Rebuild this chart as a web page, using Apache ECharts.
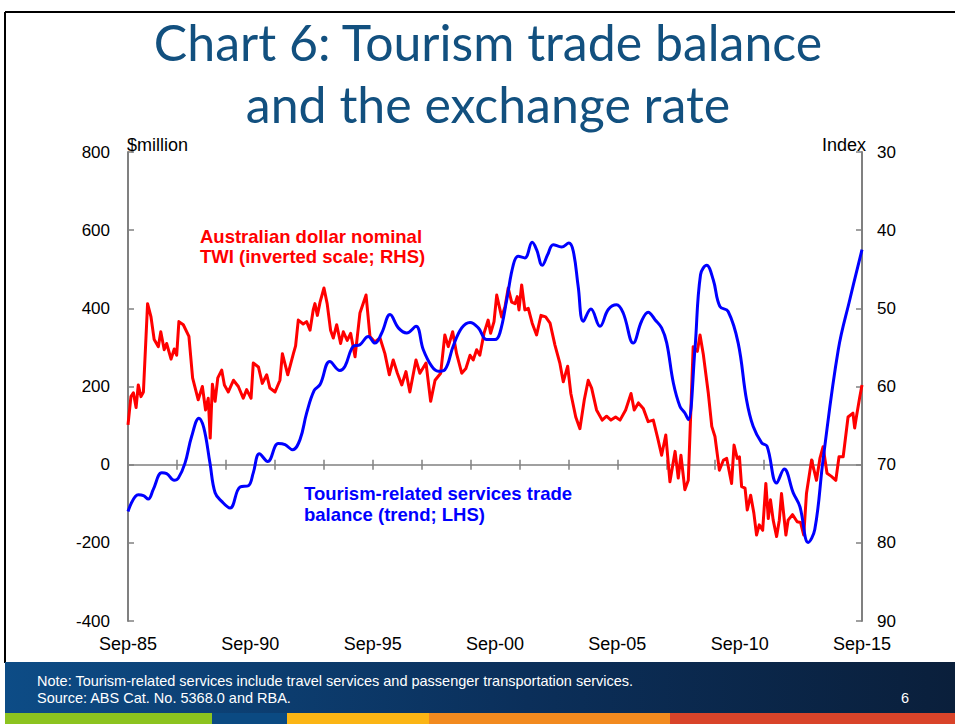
<!DOCTYPE html>
<html>
<head>
<meta charset="utf-8">
<script src="https://cdn.jsdelivr.net/npm/echarts@6/dist/echarts.min.js"></script>
<style>
  html, body { margin: 0; padding: 0; background: #fff; }
  #chart { width: 955px; height: 724px; }
</style>
</head>
<body>
<div id="chart"></div>
<script>
// years since Sep-85
var xTickLabels = ['Sep-85', 'Sep-90', 'Sep-95', 'Sep-00', 'Sep-05', 'Sep-10', 'Sep-15'];

// Tourism-related services trade balance, trend ($million, LHS)
var tradeYears = [
  0, 0.42, 0.63, 0.83, 1.03, 1.38, 1.58, 1.89, 2.06, 2.33,
  2.6, 2.9, 3.1, 3.35, 3.56, 3.83, 4.17, 4.58, 4.92, 5.12,
  5.37, 5.71, 6.14, 6.42, 6.73, 7.03, 7.3, 7.61, 7.85, 8.25,
  8.66, 8.87, 9.21, 9.48, 9.82, 10.09, 10.37, 10.71, 11.05, 11.39,
  11.77, 12.07, 12.41, 12.68, 12.95, 13.29, 13.64, 13.98, 14.32, 14.66,
  15.0, 15.2, 15.48, 15.75, 15.95, 16.22, 16.52, 16.7, 16.93, 17.15,
  17.38, 17.72, 18.02, 18.2, 18.4, 18.61, 18.92, 19.29, 19.63, 19.97,
  20.24, 20.65, 20.99, 21.26, 21.54, 21.81, 22.02, 22.29, 22.56, 22.76,
  22.9, 23.17, 23.4, 23.65, 23.92, 24.19, 24.53, 24.94, 25.28, 25.55,
  25.9, 26.12, 26.51, 26.82, 27.19, 27.46, 27.8, 28.07, 28.41, 29.03,
  29.5, 30
];
var tradeValues = [
  -120, -77, -79, -88, -64, -21, -23, -40, -34, 4,
  72, 119, 94, 4, -72, -94, -111, -57, -54, -21,
  28, 8, 54, 51, 38, 64, 132, 190, 205, 264,
  241, 252, 303, 307, 328, 311, 337, 384, 350, 337,
  354, 294, 252, 239, 243, 303, 350, 364, 350, 320,
  320, 337, 422, 512, 533, 529, 569, 550, 510, 537,
  563, 557, 567, 546, 456, 367, 398, 354, 397, 409,
  388, 311, 367, 390, 371, 350, 311, 209, 149, 132,
  115, 294, 486, 510, 473, 405, 392, 311, 166, 98,
  56, 47, -47, -11, -72, -107, -199, -166, 13, 294,
  422, 550
];

// Australian dollar nominal TWI (index, RHS, inverted)
var twiYears = [
  0, 0.12, 0.22, 0.33, 0.42, 0.53, 0.63, 0.8, 0.94, 1.07,
  1.24, 1.34, 1.48, 1.58, 1.76, 1.89, 1.99, 2.08, 2.26, 2.49,
  2.64, 2.87, 3.04, 3.17, 3.28, 3.36, 3.45, 3.56, 3.67, 3.83,
  3.94, 4.1, 4.31, 4.51, 4.71, 4.85, 5.03, 5.12, 5.33, 5.49,
  5.67, 5.8, 6.01, 6.21, 6.31, 6.53, 6.76, 6.85, 6.96, 7.16,
  7.3, 7.44, 7.57, 7.64, 7.74, 7.85, 8.01, 8.14, 8.28, 8.39,
  8.53, 8.69, 8.8, 8.96, 9.1, 9.28, 9.48, 9.73, 9.89, 10.09,
  10.3, 10.5, 10.68, 10.84, 11.01, 11.19, 11.36, 11.52, 11.77, 11.93,
  12.18, 12.37, 12.55, 12.78, 12.95, 13.09, 13.27, 13.43, 13.64, 13.81,
  13.98, 14.11, 14.25, 14.38, 14.55, 14.72, 14.82, 14.96, 15.07, 15.27,
  15.41, 15.54, 15.68, 15.82, 15.91, 15.98, 16.09, 16.22, 16.36, 16.52,
  16.7, 16.88, 17.07, 17.25, 17.45, 17.65, 17.79, 17.97, 18.1, 18.3,
  18.47, 18.65, 18.81, 18.95, 19.15, 19.38, 19.56, 19.74, 19.93, 20.11,
  20.34, 20.56, 20.69, 20.86, 21.06, 21.26, 21.47, 21.65, 21.81, 21.98,
  22.15, 22.36, 22.49, 22.6, 22.76, 22.9, 23.1, 23.27, 23.38, 23.51,
  23.72, 23.86, 23.99, 24.17, 24.34, 24.47, 24.67, 24.77, 24.9, 24.99,
  25.08, 25.22, 25.31, 25.45, 25.58, 25.69, 25.8, 25.94, 26.07, 26.17,
  26.26, 26.37, 26.51, 26.62, 26.71, 26.89, 26.98, 27.16, 27.35, 27.49,
  27.62, 27.73, 27.94, 28.14, 28.28, 28.41, 28.57, 28.75, 28.93, 29.06,
  29.23, 29.43, 29.63, 29.7, 29.77, 29.9, 30
];
var twiValues = [
  64.9, 61.3, 60.8, 62.7, 59.8, 61.3, 60.7, 49.4, 51.1, 54.0,
  54.9, 53.0, 55.3, 54.5, 56.5, 55.2, 56.0, 51.7, 52.1, 53.6,
  58.9, 61.7, 60.0, 63.0, 61.5, 66.6, 59.7, 61.9, 58.9, 57.9,
  59.8, 60.7, 59.2, 60.0, 61.5, 60.4, 61.5, 57.0, 57.5, 59.6,
  58.5, 60.2, 60.7, 59.2, 55.8, 58.5, 55.8, 54.8, 51.5, 52.0,
  51.7, 52.8, 50.2, 49.4, 50.9, 49.2, 47.4, 49.4, 52.8, 53.8,
  52.1, 54.5, 53.0, 54.1, 53.2, 56.2, 50.6, 48.3, 53.6, 54.3,
  53.8, 55.8, 58.5, 56.6, 58.3, 59.8, 58.1, 60.7, 56.6, 58.3,
  57.0, 61.9, 59.2, 58.3, 53.4, 54.9, 53.0, 55.8, 58.3, 57.7,
  56.0, 56.6, 55.3, 56.0, 53.2, 51.5, 53.2, 51.7, 48.3, 51.1,
  49.8, 47.4, 49.2, 49.4, 48.5, 50.2, 47.0, 50.2, 50.0, 51.9,
  53.4, 50.9, 51.1, 51.9, 54.7, 57.0, 59.4, 57.4, 60.9, 63.9,
  65.4, 61.7, 59.2, 60.2, 63.0, 64.3, 63.8, 64.3, 63.9, 64.3,
  63.0, 60.9, 63.0, 62.1, 62.8, 64.5, 64.3, 66.6, 68.8, 66.2,
  72.2, 68.3, 71.7, 68.8, 73.2, 72.0, 54.9, 55.5, 53.4, 55.8,
  60.9, 65.1, 66.4, 70.7, 69.4, 69.2, 72.4, 67.5, 69.2, 69.0,
  72.8, 73.0, 75.8, 73.9, 76.2, 79.0, 77.7, 78.4, 72.4, 76.9,
  74.5, 77.1, 79.2, 77.1, 73.7, 79.0, 77.1, 76.4, 77.3, 77.4,
  79.0, 73.7, 69.4, 72.0, 69.2, 67.7, 71.1, 71.5, 72.0, 69.0,
  69.0, 63.9, 63.4, 65.3, 63.9, 61.5, 59.8
];

function zip(xs, ys) {
  return xs.map(function (x, i) { return [x, ys[i]]; });
}

var chart = echarts.init(document.getElementById('chart'), null, { renderer: 'svg' });

var axisGrey = '#808080';
var font = 'Arial, "Liberation Sans", sans-serif';
var titleFont = '50px Lato, sans-serif';

var option = {
  backgroundColor: '#fff',
  animation: false,
  grid: { left: 128, right: 93, top: 152, bottom: 103 },
  xAxis: [
    {
      // labels only
      type: 'value', min: 0, max: 30, interval: 5, position: 'bottom',
      axisLine: { show: false, onZero: false },
      axisTick: { show: false },
      splitLine: { show: false },
      axisLabel: {
        margin: 14, color: '#000', fontSize: 18, fontFamily: font,
        formatter: function (v) { return xTickLabels[Math.round(v / 5)]; }
      }
    },
    {
      // zero line, ticks below
      type: 'value', min: 0, max: 30, interval: 2, position: 'bottom',
      axisLine: { show: true, onZero: true, onZeroAxisIndex: 0, lineStyle: { color: axisGrey, width: 1.5 } },
      axisTick: { show: true, inside: false, length: 5, lineStyle: { color: axisGrey, width: 1.5 } },
      axisLabel: { show: false },
      splitLine: { show: false }
    },
    {
      // ticks above zero line
      type: 'value', min: 0, max: 30, interval: 2, position: 'bottom',
      axisLine: { show: false, onZero: true, onZeroAxisIndex: 0 },
      axisTick: { show: true, inside: true, length: 5, lineStyle: { color: axisGrey, width: 1.5 } },
      axisLabel: { show: false },
      splitLine: { show: false }
    }
  ],
  yAxis: [
    {
      type: 'value', min: -400, max: 800, interval: 200, position: 'left',
      axisLine: { show: true, onZero: false, lineStyle: { color: axisGrey, width: 2 } },
      axisTick: { show: true, inside: true, length: 6, lineStyle: { color: axisGrey, width: 1.5 } },
      axisLabel: { margin: 18, color: '#000', fontSize: 17, fontFamily: font },
      splitLine: { show: false }
    },
    {
      type: 'value', min: 30, max: 90, interval: 10, position: 'right', inverse: true,
      axisLine: { show: true, onZero: false, lineStyle: { color: axisGrey, width: 2 } },
      axisTick: { show: true, inside: true, length: 6, lineStyle: { color: axisGrey, width: 1.5 } },
      axisLabel: { margin: 15, color: '#000', fontSize: 17, fontFamily: font },
      splitLine: { show: false }
    }
  ],
  series: [
    {
      name: 'TWI', type: 'line', xAxisIndex: 0, yAxisIndex: 1,
      data: zip(twiYears, twiValues),
      showSymbol: false, smooth: false,
      lineStyle: { color: '#ff0000', width: 3, join: 'round' }
    },
    {
      name: 'Tourism trade balance', type: 'line', xAxisIndex: 0, yAxisIndex: 0,
      data: zip(tradeYears, tradeValues),
      showSymbol: false, smooth: 0.4,
      lineStyle: { color: '#0000ff', width: 3 }
    }
  ],
  graphic: [
    // slide frame
    { type: 'line', shape: { x1: 5, y1: 12, x2: 955, y2: 12 }, style: { stroke: '#000', lineWidth: 2 } },
    { type: 'line', shape: { x1: 5, y1: 12, x2: 5, y2: 663 }, style: { stroke: '#000', lineWidth: 2 } },
    // title
    { type: 'text', x: 488, y: 42, style: { text: 'Chart 6: Tourism trade balance', fill: '#12507f', font: titleFont, textAlign: 'center', textVerticalAlign: 'middle' } },
    { type: 'text', x: 488, y: 104, style: { text: 'and the exchange rate', fill: '#12507f', font: titleFont, textAlign: 'center', textVerticalAlign: 'middle' } },
    // axis units
    { type: 'text', x: 127, y: 145, style: { text: '$million', fill: '#000', font: '18px ' + font, textAlign: 'left', textVerticalAlign: 'middle' } },
    { type: 'text', x: 866, y: 145, style: { text: 'Index', fill: '#000', font: '18px ' + font, textAlign: 'right', textVerticalAlign: 'middle' } },
    // series annotations
    { type: 'text', x: 200, y: 236, style: { text: 'Australian dollar nominal', fill: '#ff0000', font: 'bold 18.5px ' + font, textAlign: 'left', textVerticalAlign: 'middle' } },
    { type: 'text', x: 200, y: 256, style: { text: 'TWI (inverted scale; RHS)', fill: '#ff0000', font: 'bold 18.5px ' + font, textAlign: 'left', textVerticalAlign: 'middle' } },
    { type: 'text', x: 304, y: 493, style: { text: 'Tourism-related services trade', fill: '#0000ff', font: 'bold 18.5px ' + font, textAlign: 'left', textVerticalAlign: 'middle' } },
    { type: 'text', x: 304, y: 514, style: { text: 'balance (trend; LHS)', fill: '#0000ff', font: 'bold 18.5px ' + font, textAlign: 'left', textVerticalAlign: 'middle' } },
    // footer band
    {
      type: 'rect', shape: { x: 5, y: 662, width: 950, height: 51 },
      style: {
        fill: new echarts.graphic.LinearGradient(0, 0, 1, 0, [
          { offset: 0, color: '#0d4c86' },
          { offset: 0.55, color: '#0b2f5a' },
          { offset: 1, color: '#0a1f3b' }
        ])
      }
    },
    { type: 'rect', shape: { x: 5, y: 713, width: 207, height: 11 }, style: { fill: '#8cc31f' } },
    { type: 'rect', shape: { x: 212, y: 713, width: 75, height: 11 }, style: { fill: '#0b4a82' } },
    { type: 'rect', shape: { x: 287, y: 713, width: 142, height: 11 }, style: { fill: '#fbb515' } },
    { type: 'rect', shape: { x: 429, y: 713, width: 241, height: 11 }, style: { fill: '#f28a1f' } },
    { type: 'rect', shape: { x: 670, y: 713, width: 285, height: 11 }, style: { fill: '#d9442a' } },
    { type: 'text', x: 37, y: 681, style: { text: 'Note: Tourism-related services include travel services and passenger transportation services.', fill: '#fff', font: '14.5px ' + font, textAlign: 'left', textVerticalAlign: 'middle' } },
    { type: 'text', x: 37, y: 698, style: { text: 'Source: ABS Cat. No. 5368.0 and RBA.', fill: '#fff', font: '14.5px ' + font, textAlign: 'left', textVerticalAlign: 'middle' } },
    { type: 'text', x: 905, y: 698, style: { text: '6', fill: '#fff', font: '14.5px ' + font, textAlign: 'center', textVerticalAlign: 'middle' } }
  ]
};

chart.setOption(option);
</script>
</body>
</html>
